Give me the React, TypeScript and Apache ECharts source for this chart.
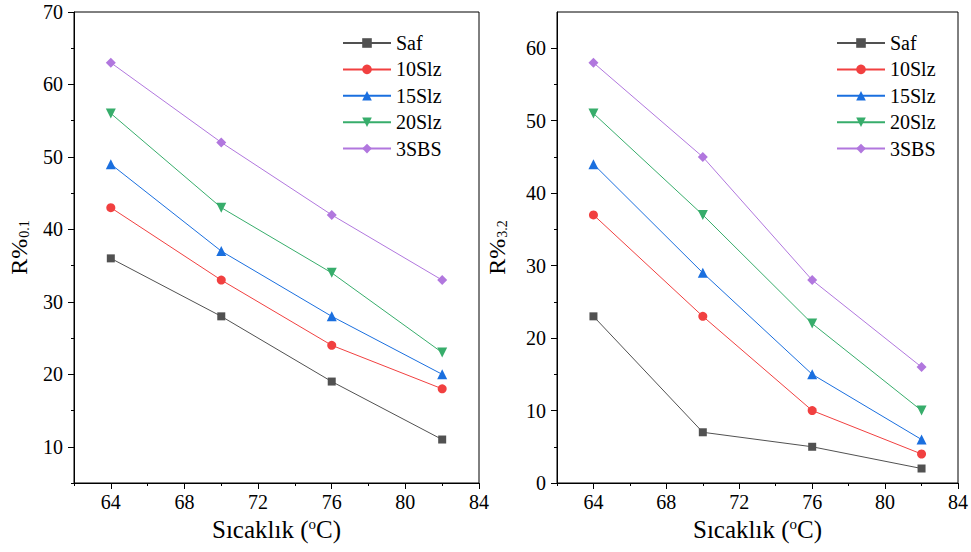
import React, { useEffect, useRef } from "react";
import * as echarts from "echarts";

const temps = [64, 70, 76, 82];
const names = ["Saf", "10Slz", "15Slz", "20Slz", "3SBS"];
const colors = ["#515151", "#F14040", "#1A6FDF", "#37AD6B", "#B177DE"];

const saf01 = [36, 28, 19, 11];
const slz10_01 = [43, 33, 24, 18];
const slz15_01 = [49, 37, 28, 20];
const slz20_01 = [56, 43, 34, 23];
const sbs3_01 = [63, 52, 42, 33];

const saf32 = [23, 7, 5, 2];
const slz10_32 = [37, 23, 10, 4];
const slz15_32 = [44, 29, 15, 6];
const slz20_32 = [51, 37, 22, 10];
const sbs3_32 = [58, 45, 28, 16];

const xMajor = [64, 68, 72, 76, 80, 84];
const xMinor = [62, 66, 70, 74, 78, 82];
const yLeftMajor = [10, 20, 30, 40, 50, 60, 70];
const yLeftMinor = [5, 15, 25, 35, 45, 55, 65];
const yRightMajor = [0, 10, 20, 30, 40, 50, 60];
const yRightMinor = [5, 15, 25, 35, 45, 55];

const FONT = "'Liberation Serif', 'Times New Roman', serif";

const symbols: any[] = [
  { symbol: "rect", size: 8, rotate: 0 },
  { symbol: "circle", size: 9, rotate: 0 },
  { symbol: "triangle", size: 10, rotate: 0 },
  { symbol: "triangle", size: 10, rotate: 180 },
  { symbol: "diamond", size: 10, rotate: 0 },
];

export default function App() {
  const ref = useRef<HTMLDivElement>(null);
  useEffect(() => {
    if (!ref.current) return;
    const chart = echarts.init(ref.current, undefined, { renderer: "svg" });
    const leftData = [saf01, slz10_01, slz15_01, slz20_01, sbs3_01];
    const rightData = [saf32, slz10_32, slz15_32, slz20_32, sbs3_32];

    const mkX = (grid: number, major: boolean) => ({
      type: "value",
      gridIndex: grid,
      position: "bottom",
      min: 62,
      max: 84,
      splitLine: { show: false },
      axisLine: { show: major, onZero: false, lineStyle: { color: "#000", width: 1 } },
      axisTick: {
        show: true,
        inside: false,
        length: major ? 6 : 3,
        customValues: major ? xMajor : xMinor,
        lineStyle: { color: "#000", width: 1 },
      },
      axisLabel: {
        show: major,
        customValues: xMajor,
        margin: 9,
        fontFamily: FONT,
        fontSize: 20,
        color: "#000",
      },
      name: major ? "Sıcaklık ({sup|o}C)" : "",
      nameLocation: "middle",
      nameGap: 33,
      nameTextStyle: {
        fontFamily: FONT,
        fontSize: 25,
        color: "#000",
        rich: {
          sup: { fontFamily: FONT, fontSize: 15, color: "#000", verticalAlign: "top", padding: [0, 0, 8, 0] },
        },
      },
    });

    const mkY = (grid: number, major: boolean, min: number, max: number, mj: number[], mn: number[], sub: string, gap: number) => ({
      type: "value",
      gridIndex: grid,
      position: "left",
      min,
      max,
      splitLine: { show: false },
      axisLine: { show: major, onZero: false, lineStyle: { color: "#000", width: 1 } },
      axisTick: {
        show: true,
        inside: false,
        length: major ? 6 : 3,
        customValues: major ? mj : mn,
        lineStyle: { color: "#000", width: 1 },
      },
      axisLabel: {
        show: major,
        customValues: mj,
        margin: 11,
        fontFamily: FONT,
        fontSize: 20,
        color: "#000",
      },
      name: major ? "{r|R%}{s|" + sub + "}" : "",
      nameLocation: "middle",
      nameRotate: 90,
      nameGap: gap,
      nameTextStyle: {
        fontFamily: FONT,
        color: "#000",
        rich: {
          r: { fontFamily: FONT, fontSize: 24, color: "#000", verticalAlign: "bottom", lineHeight: 40 },
          s: { fontFamily: FONT, fontSize: 14, color: "#000", verticalAlign: "bottom", lineHeight: 14, padding: [0, 0, 0, 1] },
        },
      },
    });

    const series: any[] = [];
    [leftData, rightData].forEach((set, gi) => {
      set.forEach((vals, i) => {
        series.push({
          type: "line",
          name: names[i],
          xAxisIndex: gi * 2,
          yAxisIndex: gi * 2,
          data: temps.map((t, k) => [t, vals[k]]),
          symbol: symbols[i].symbol,
          symbolSize: symbols[i].size,
          symbolRotate: symbols[i].rotate,
          showSymbol: true,
          lineStyle: { color: colors[i], width: 1 },
          itemStyle: { color: colors[i], borderWidth: 0 },
          emphasis: { disabled: true },
          z: 3,
        });
      });
    });

    const mkLegend = (left: number) => ({
      left,
      top: 33,
      padding: 0,
      orient: "vertical",
      itemWidth: 48,
      itemHeight: 12,
      itemGap: 6.4,
      data: names,
      textStyle: { fontFamily: FONT, fontSize: 20, color: "#000", lineHeight: 20 },
      selectedMode: false,
    });

    chart.setOption({
      animation: false,
      backgroundColor: "#fff",
      textStyle: { fontFamily: FONT },
      grid: [
        { left: 74, top: 12, width: 405, height: 471, show: true, borderColor: "#000", borderWidth: 1, backgroundColor: "transparent" },
        { left: 557, top: 12, width: 404, height: 471, show: true, borderColor: "#000", borderWidth: 1, backgroundColor: "transparent" },
      ],
      xAxis: [mkX(0, true), mkX(0, false), mkX(1, true), mkX(1, false)],
      yAxis: [
        mkY(0, true, 5, 70, yLeftMajor, yLeftMinor, "0.1", 43),
        mkY(0, false, 5, 70, yLeftMajor, yLeftMinor, "0.1", 43),
        mkY(1, true, 0, 65, yRightMajor, yRightMinor, "3.2", 48),
        mkY(1, false, 0, 65, yRightMajor, yRightMinor, "3.2", 48),
      ],
      legend: [mkLegend(342), mkLegend(836)],
      series,
    });
    return () => chart.dispose();
  }, []);
  return <div ref={ref} style={{ position: "absolute", left: 0, top: 0, width: 971, height: 552 }} />;
}
